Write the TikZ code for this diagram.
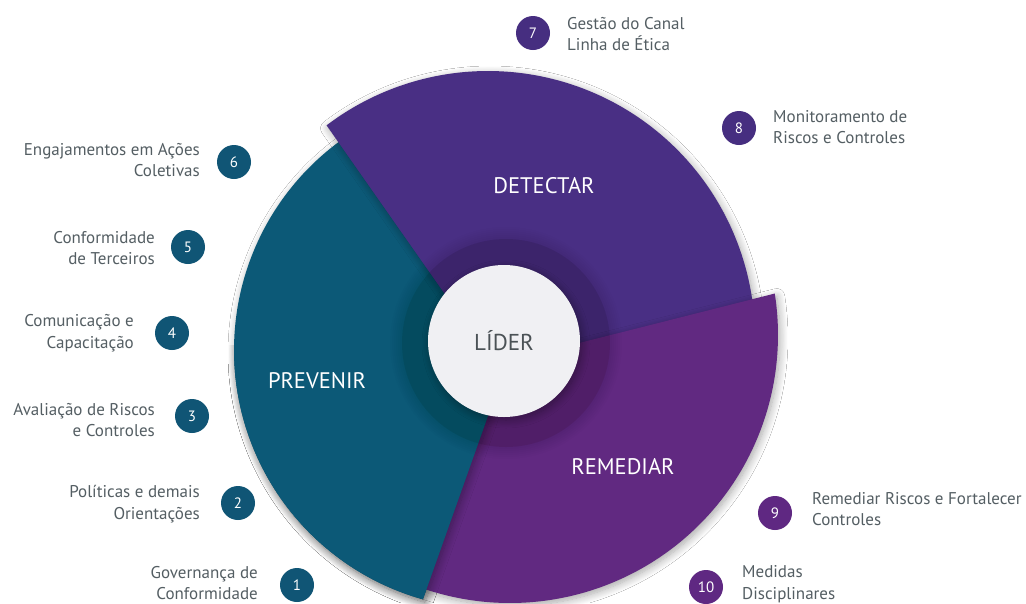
\documentclass[tikz,border=0pt]{standalone}
\usepackage{fontspec}
\setmainfont{PT Sans}
\usetikzlibrary{shadows.blur}
\definecolor{prevc}{RGB}{12,89,119}
\definecolor{detc}{RGB}{73,47,132}
\definecolor{remc}{RGB}{97,41,129}
\definecolor{numteal}{RGB}{16,85,117}
\definecolor{numdet}{RGB}{70,46,128}
\definecolor{numrem}{RGB}{95,40,130}
\definecolor{txtc}{RGB}{84,94,99}
\definecolor{lidc}{RGB}{240,240,243}
\definecolor{lidtxt}{RGB}{75,82,86}
\begin{document}
\begin{tikzpicture}[x=1pt,y=-1pt,
  numc/.style={circle, minimum size=34pt, inner sep=0pt, text=white, font=\fontsize{15}{15}\selectfont},
  lbl/.style={text=txtc, font=\fontsize{17}{21.5}\selectfont, inner sep=0pt},
  lblL/.style={lbl, align=right, anchor=east},
  lblR/.style={lbl, align=left, anchor=west},
  sect/.style={font=\fontsize{22.5}{22.5}\selectfont, text=white, inner sep=0pt},
  shad/.style={blur shadow={shadow blur steps=10, shadow xshift=2pt, shadow yshift=-3pt, shadow opacity=35, shadow blur radius=8pt}}
]
\useasboundingbox (0,0) rectangle (1026,603);
\fill[white] (0,0) rectangle (1026,603);

% sectors
\fill[prevc, shad] (515,340) -- plot[domain=105.7:240, samples=60, smooth] ({493+259*cos(\x)},{350+259*sin(\x)}) -- cycle;
\fill[detc, shad] (477,340) -- plot[domain=232.8:380, samples=60, smooth] ({488+267*cos(\x)},{338+267*sin(\x)}) -- cycle;
\fill[remc, shad] (520,358) -- plot[domain=-8.9:115, samples=60, smooth] ({510+268*cos(\x)},{335+268*sin(\x)}) -- cycle;
\begin{scope}
  \clip (0,345) rectangle (620,603);
  \fill[prevc, shad] (515,340) -- plot[domain=105.7:240, samples=60, smooth] ({493+259*cos(\x)},{350+259*sin(\x)}) -- cycle;
\end{scope}

% soft inner ring
\fill[black, opacity=0.08] (506,343) circle[radius=104];
\foreach \r in {104,106,...,116} {
  \fill[black, opacity=0.012] (506,343) circle[radius=\r];
}
\node[circle, fill=lidc, minimum size=152pt, inner sep=0pt, shad, text=lidtxt, font=\fontsize{23}{23}\selectfont] (lider) at (504,341) {LÍDER};

\node[sect] (prev) at (317,381) {PREVENIR};
\node[sect] (det) at (544,186) {DETECTAR};
\node[sect] (rem) at (623,467) {REMEDIAR};

% numbered items
\node[numc, fill=numteal] (n6) at (234,162) {6};
\node[lblL] (t6) at (200,160) {Engajamentos em Ações\\Coletivas};
\node[numc, fill=numteal] (n5) at (188,247) {5};
\node[lblL] (t5) at (155,248) {Conformidade\\de Terceiros};
\node[numc, fill=numteal] (n4) at (172,333) {4};
\node[lblL] (t4) at (134,333) {Comunicação e\\Capacitação};
\node[numc, fill=numteal] (n3) at (192,416) {3};
\node[lblL] (t3) at (155,420) {Avaliação de Riscos\\e Controles};
\node[numc, fill=numteal] (n2) at (238,503) {2};
\node[lblL] (t2) at (200,504) {Políticas e demais\\Orientações};
\node[numc, fill=numteal] (n1) at (297,585) {1};
\node[lblL] (t1) at (258,583) {Governança de\\Conformidade};

\node[numc, fill=numdet] (n7) at (533,33) {7};
\node[lblR] (t7) at (567,34) {Gestão do Canal\\Linha de Ética};
\node[numc, fill=numdet] (n8) at (739,128) {8};
\node[lblR] (t8) at (773,127) {Monitoramento de\\Riscos e Controles};
\node[numc, fill=numrem] (n9) at (775,513) {9};
\node[lblR] (t9) at (812,509) {Remediar Riscos e Fortalecer\\Controles};
\node[numc, fill=numrem] (n10) at (706,587) {10};
\node[lblR] (t10) at (742,584) {Medidas\\Disciplinares};
\end{tikzpicture}
\end{document}
